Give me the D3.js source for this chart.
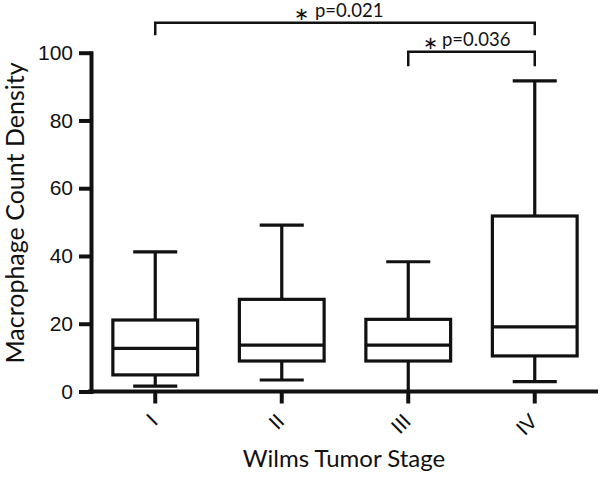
<!DOCTYPE html>
<html>
<head>
<meta charset="utf-8">
<script src="https://cdn.jsdelivr.net/npm/d3@7"></script>
<style>
  body { margin: 0; background: #fff; }
  svg { display: block; font-family: Lato, "Open Sans", sans-serif; }
  .axis path, .axis line { stroke: #111; stroke-width: 4; }
  .axis text { font-size: 21px; fill: #111; }
  .box { fill: none; stroke: #111; stroke-width: 3.2; }
  .bracket { fill: none; stroke: #111; stroke-width: 2.5; }
  .star { font-family: "DejaVu Sans", sans-serif; font-size: 18px; }
</style>
</head>
<body>
<svg id="chart" width="600" height="477"></svg>
<script>
// stages and box-plot summaries
const stages = ["I", "II", "III", "IV"];
const whiskerLow = [1.6, 3.4, 0, 2.9];
const q1 = [4.9, 9.0, 9.0, 10.5];
const median = [12.7, 13.7, 13.7, 19.1];
const q3 = [21.1, 27.2, 21.3, 51.8];
const whiskerHigh = [41.2, 49.1, 38.3, 91.7];
const yTicks = [0, 20, 40, 60, 80, 100];

// significance brackets
const comparisons = [
  { from: "I", to: "IV", label: "p=0.021" },
  { from: "III", to: "IV", label: "p=0.036" }
];

const svg = d3.select("#chart");

const x = d3.scaleBand()
  .domain(stages)
  .range([92, 598]);

const y = d3.scaleLinear()
  .domain([0, 100])
  .range([391.5, 52.7]);

const boxW = x.step() * 0.67;
const capW = boxW * 0.52;

const data = stages.map((s, i) => ({
  stage: s,
  lo: whiskerLow[i], q1: q1[i], med: median[i], q3: q3[i], hi: whiskerHigh[i]
}));

// boxes
const g = svg.append("g")
  .selectAll("g")
  .data(data)
  .join("g")
  .attr("transform", d => `translate(${x(d.stage) + x.bandwidth() / 2},0)`);

g.append("line").attr("class", "box")
  .attr("y1", d => y(d.q3)).attr("y2", d => y(d.hi));
g.append("line").attr("class", "box")
  .attr("y1", d => y(d.q1)).attr("y2", d => y(d.lo));
g.append("line").attr("class", "box")
  .attr("x1", -capW / 2).attr("x2", capW / 2)
  .attr("y1", d => y(d.hi)).attr("y2", d => y(d.hi));
g.append("line").attr("class", "box")
  .attr("x1", -capW / 2).attr("x2", capW / 2)
  .attr("y1", d => y(d.lo)).attr("y2", d => y(d.lo));
g.append("rect").attr("class", "box")
  .attr("x", -boxW / 2).attr("width", boxW)
  .attr("y", d => y(d.q3)).attr("height", d => y(d.q1) - y(d.q3))
  .attr("fill", "#fff");
g.append("line").attr("class", "box")
  .attr("x1", -boxW / 2).attr("x2", boxW / 2)
  .attr("y1", d => y(d.med)).attr("y2", d => y(d.med));

// y axis
svg.append("g")
  .attr("class", "axis")
  .attr("transform", `translate(91,0)`)
  .call(d3.axisLeft(y).tickValues(yTicks).tickSize(12).tickSizeOuter(0).tickPadding(6))
  .call(a => a.select(".domain").attr("stroke-linecap", "square"));

// x axis
const xAxis = svg.append("g")
  .attr("class", "axis")
  .attr("transform", `translate(0,${y(0)})`)
  .call(d3.axisBottom(x).tickSize(12).tickSizeOuter(0));
xAxis.select(".domain").attr("d", `M88,0H598`);
xAxis.selectAll(".tick text")
  .attr("y", 0).attr("dy", 0)
  .attr("text-anchor", "end")
  .attr("transform", "translate(4,31) rotate(-45)");

// axis titles
svg.append("text")
  .attr("transform", "translate(23.5,213) rotate(-90)")
  .attr("text-anchor", "middle")
  .style("font-size", "25px")
  .attr("fill", "#111")
  .text("Macrophage Count Density");

svg.append("text")
  .attr("x", 344).attr("y", 467)
  .attr("text-anchor", "middle")
  .style("font-size", "24px")
  .attr("fill", "#111")
  .text("Wilms Tumor Stage");

// significance brackets
const bracketY = [22.7, 51.7];
const dropLen = [12.5, 14.5];
const starX = [294, 423];
const labelX = [315, 442];
comparisons.forEach((c, i) => {
  const x1 = x(c.from) + x.bandwidth() / 2;
  const x2 = x(c.to) + x.bandwidth() / 2;
  const by = bracketY[i];
  svg.append("path").attr("class", "bracket")
    .attr("d", `M${x1},${by + dropLen[i]}V${by}H${x2}V${by + dropLen[i]}`);
  svg.append("text")
    .attr("class", "star")
    .attr("x", starX[i]).attr("y", by - 3)
    .attr("fill", "#111")
    .text("\u2217");
  svg.append("text")
    .attr("x", labelX[i]).attr("y", by - 5.5)
    .style("font-size", "18.5px")
    .attr("fill", "#111")
    .text(c.label);
});
</script>
</body>
</html>
